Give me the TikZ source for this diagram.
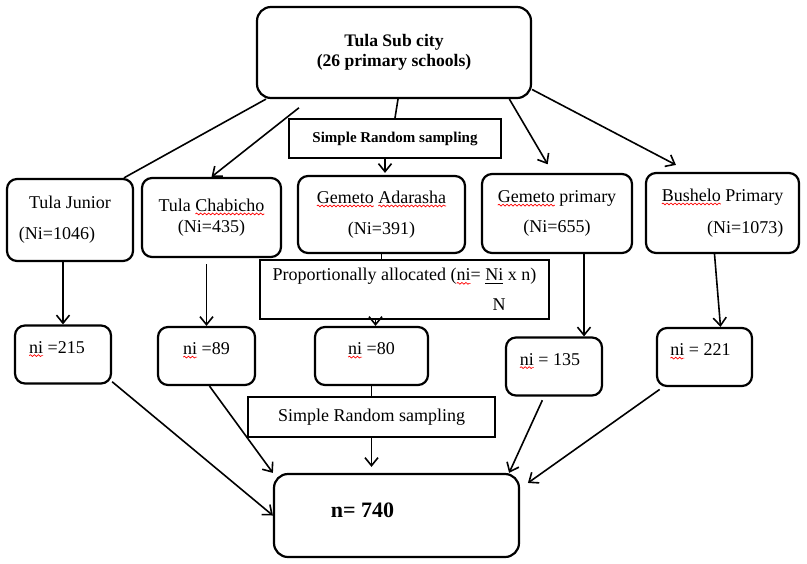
\documentclass[tikz,border=0pt]{standalone}
\usepackage{fontspec}
\setmainfont{Liberation Serif}
\usetikzlibrary{arrows.meta}
\usetikzlibrary{calc}
\usetikzlibrary{decorations.pathmorphing}

\newcommand\spell[1]{\tikz[baseline=(sp.base)]{\node[draw=none, fill=none, inner sep=0pt, outer sep=0pt,
    minimum width=0pt, minimum height=0pt, text height=, text depth=, anchor=base] (sp) {#1};
    \draw[overlay, red, line width=0.35pt, sharp corners, decorate, decoration={snake, amplitude=0.45pt, segment length=2pt}]
    ([yshift=-1.3pt]sp.base west) -- ([yshift=-1.3pt]sp.base east);}}

\begin{document}
\begin{tikzpicture}[
    x=0.5pt, y=-0.5pt,
    box/.style={draw, line width=1.1pt, rounded corners=5pt, align=center, inner sep=2pt,
        font=\fontsize{9}{10}\selectfont},
    nibox/.style={box, text height=6.5pt, text depth=8pt, minimum height=29pt},
    link/.style={line width=0.8pt},
    arr/.style={link, -{Straight Barb[length=4pt,width=6.5pt]}},
]
\useasboundingbox (0,0) rectangle (807,563);

\node[box, rounded corners=7pt, minimum width=137pt, minimum height=45.5pt,
    font=\fontsize{8.8}{10}\selectfont\bfseries] (top) at (394,52.5) {Tula Sub city\\(26 primary schools)};
\node[box, sharp corners, minimum width=106pt, minimum height=19.5pt,
    font=\fontsize{7.5}{9}\selectfont\bfseries] (srs1) at (395,138.5) {Simple Random sampling};

\node[box, minimum width=63pt, minimum height=41pt] (junior) at (70,220) {Tula Junior\\[5.5pt](Ni=1046)\hspace*{13pt}};
\node[box, minimum width=69.5pt, minimum height=39.5pt] (chabicho) at (211.5,217.5) {Tula \spell{Chabicho}\\[0.5pt](Ni=435)};
\node[box, minimum width=83.5pt, minimum height=38.5pt] (adarasha) at (381.5,214.5) {\spell{Gemeto} \spell{Adarasha}\\[5.5pt](Ni=391)};
\node[box, minimum width=75pt, minimum height=39.5pt] (gprimary) at (557,213.5) {\spell{Gemeto} primary\\[5pt](Ni=655)};
\node[box, align=right, minimum width=76.5pt, minimum height=40pt] (bushelo) at (722.5,213) {\spell{Bushelo} Primary\\[6pt](Ni=1073)};

\node[box, sharp corners, align=left, minimum width=144.5pt, minimum height=29.5pt] (prop) at (404.5,289.5)
    {Proportionally allocated (\spell{ni}= \underline{Ni} x n)\\[5pt]\hspace*{110pt}N};

\node[nibox, minimum width=48pt] (n215) at (63,354.5) {\spell{ni} =215\hspace*{6pt}};
\node[nibox, minimum width=48.5pt] (n89) at (206.5,356) {\spell{ni} =89};
\node[nibox, minimum width=56.5pt] (n80) at (371.5,356) {\spell{ni} =80};
\node[nibox, minimum width=48pt] (n135) at (554,366.5) {\spell{ni} = 135\hspace*{4pt}};
\node[nibox, minimum width=47.5pt] (n221) at (704.5,357) {\spell{ni} = 221\hspace*{4pt}};

\node[box, sharp corners, minimum width=123.5pt, minimum height=20pt] (srs2) at (371.5,417) {Simple Random sampling};
\node[box, rounded corners=7pt, minimum width=122.5pt, minimum height=41.5pt, text depth=5pt,
    font=\fontsize{11}{13}\selectfont\bfseries] (final) at (396.5,515.5) {n= 740\hspace*{34pt}};

\draw[link] (top.200) -- (junior.38);
\draw[arr, shorten <=7pt] (top.209) -- (chabicho.north);
\draw[link] ($(top.south)+(4,0)$) -- (srs1.north);
\draw[arr, shorten >=1pt] ($(srs1.south)+(-10,0)$) -- ($(adarasha.north)+(3.5,0)$);
\draw[arr, shorten >=5pt] (top.-22) -- (gprimary.96);
\draw[arr, shorten >=7.5pt] (top.-15) -- (bushelo.129);

\draw[link] (adarasha.south) -- (adarasha.south |- prop.north);
\draw[arr] ($(prop.south -| n80.north)+(4,0)$) -- ($(n80.north)+(4,0)$);
\draw[arr] (junior.south -| n215.north) -- (n215.north);
\draw[arr, shorten <=3pt] (chabicho.south -| n89.north) -- (n89.north);
\draw[arr] ($(gprimary.south)+(27,0)$) -- ($(n135.north)+(30,0)$);
\draw[arr] ($(bushelo.south)+(-8,0)$) -- ($(n221.north)+(16,0)$);

\draw[arr] (n215.-29) -- (final.west);
\draw[arr] ($(n89.south)+(3,0)$) -- (final.north west);
\draw[link] (n80.south) -- (n80.south |- srs2.north);
\draw[arr, shorten >=3pt] (srs2.south) -- (srs2.south |- final.north);
\draw[arr, shorten <=2pt] ($(n135.south)+(-10,0)$) -- ($(final.north east)+(-11,0)$);
\draw[arr, shorten <=2pt, shorten >=4.8pt] ($(n221.south west)+(7,0)$) -- ($(final.east)+(0,-27)$);
\end{tikzpicture}
\end{document}
